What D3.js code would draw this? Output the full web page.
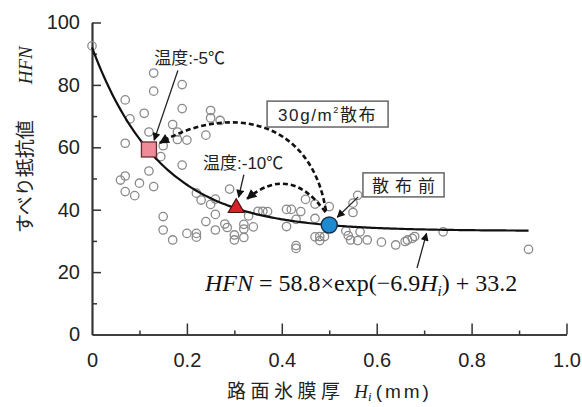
<!DOCTYPE html>
<html><head><meta charset="utf-8">
<script src="https://cdn.jsdelivr.net/npm/d3@7"></script>
<style>
html,body{margin:0;padding:0;background:#fff;}
svg{display:block;}
.sans{font-family:"Liberation Sans","Noto Sans CJK JP",sans-serif;}
.serif{font-family:"Liberation Serif","DejaVu Serif",serif;}
</style></head>
<body>
<svg id="chart" width="582" height="407"></svg>
<script>
// ---- data ----
const iceThickness = [0.00,0.13,0.19,0.13,0.07,0.19,0.11,0.08,0.25,0.25,0.27,0.17,0.12,0.18,0.18,0.20,0.24,0.07,0.15,0.145,
  0.19,0.12,0.07,0.06,0.10,0.13,0.07,0.09,0.29,0.22,0.23,0.26,0.25,0.26,0.15,0.24,0.28,0.26,0.15,0.20,
  0.22,0.22,0.17,0.285,0.30,0.30,0.32,0.32,0.34,0.32,0.33,0.35,0.36,0.37,0.41,0.42,0.44,0.45,0.47,0.41,
  0.43,0.47,0.43,0.43,0.47,0.48,0.49,0.48,0.50,0.55,0.56,0.55,0.535,0.54,0.545,0.565,0.58,0.56,0.61,0.64,
  0.66,0.665,0.675,0.68,0.74,0.92];
const hfnValues = [92.5,83.8,80.1,78.0,75.2,72.4,70.9,69.1,71.8,69.4,68.6,67.3,64.9,64.9,62.5,62.3,63.9,61.3,60.5,57.0,
  54.3,52.4,50.8,49.5,48.5,47.4,45.8,44.5,46.6,45.3,43.1,43.4,41.7,38.5,37.8,36.2,35.4,33.5,33.5,32.4,
  32.4,31.2,30.3,34.3,31.9,30.3,35.3,33.8,34.5,31.1,38.0,39.5,39.5,39.4,40.1,40.1,39.4,43.3,41.8,34.6,
  36.9,37.2,28.5,27.6,31.3,31.4,31.4,30.1,41.0,42.1,44.6,39.1,33.2,31.7,30.3,32.9,30.3,30.1,29.6,28.7,
  29.8,30.3,30.8,31.4,32.9,27.3];
// highlighted states: -5°C after spreading, -10°C after spreading, before spreading
const markerH   = [0.12, 0.304, 0.50];
const markerHFN = [59.3, 40.9, 35.1];
// fitted curve HFN = a*exp(-b*Hi) + c  (coefficients printed on chart)
const fitA = 58.8, fitB = 6.9, fitC = 33.2, fitMaxH = 0.92;
const xMajorTicks = [0.2,0.4,0.6,0.8,1.0];
const xMinorTicks = [0.1,0.3,0.5,0.7,0.9];
const xTickLabels = ["0","0.2","0.4","0.6","0.8","1.0"];
const yMajorTicks = [0,20,40,60,80,100];
const yMinorTicks = [10,30,50,70,90];

// ---- layout ----
const svg = d3.select("#chart");
const x = d3.scaleLinear().domain([0,1]).range([92,566.5]);
const y = d3.scaleLinear().domain([0,100]).range([334.5,22.5]);
const axisColor = "#333";

const defs = svg.append("defs");
function mk(id,w,h){
  defs.append("marker").attr("id",id).attr("viewBox","0 0 10 10")
    .attr("refX",9).attr("refY",5).attr("markerUnits","userSpaceOnUse")
    .attr("markerWidth",w).attr("markerHeight",h).attr("orient","auto")
    .append("path").attr("d","M0,0 L10,5 L0,10 Z").attr("fill","#111");
}
mk("arr",10,8); mk("arrBig",12,10);

// ---- axes ----
const gx = svg.append("g").attr("transform",`translate(0,${y(0)})`);
gx.call(d3.axisBottom(x).tickValues([0].concat(xMajorTicks)).tickSize(-11).tickSizeOuter(0).tickPadding(18.5)
  .tickFormat((d,i)=>xTickLabels[i]));
gx.append("g").call(d3.axisBottom(x).tickValues(xMinorTicks).tickSize(-4).tickSizeOuter(0).tickFormat(""));
const gy = svg.append("g").attr("transform",`translate(${x(0)},0)`);
gy.call(d3.axisLeft(y).tickValues(yMajorTicks).tickSize(-9).tickSizeOuter(0).tickPadding(12));
gy.append("g").call(d3.axisLeft(y).tickValues(yMinorTicks).tickSize(-5).tickSizeOuter(0).tickFormat(""));
svg.selectAll(".domain").attr("stroke",axisColor).attr("stroke-width",1.7);
svg.selectAll(".tick line").attr("stroke",axisColor).attr("stroke-width",1.5);
svg.selectAll(".tick text").attr("class","sans").attr("font-size",20).attr("fill","#222");
gx.selectAll(".tick").filter(d=>d===0).select("line").remove();
gy.selectAll(".tick").filter(d=>d===0).select("line").remove();

// ---- scatter ----
svg.append("g").selectAll("circle").data(iceThickness.map((h,i)=>[h,hfnValues[i]]))
  .join("circle").attr("cx",d=>x(d[0])).attr("cy",d=>y(d[1])).attr("r",4.2)
  .attr("fill","none").attr("stroke","#8a8a8a").attr("stroke-width",1.3);

// ---- fitted curve ----
const curveH = d3.range(0, fitMaxH+1e-9, 0.005);
svg.append("path").datum(curveH.map(h=>[h, fitA*Math.exp(-fitB*h)+fitC]))
  .attr("d",d3.line().x(d=>x(d[0])).y(d=>y(d[1])).curve(d3.curveLinear))
  .attr("fill","none").attr("stroke","#111").attr("stroke-width",2.2);

// ---- dashed transition arrows ----
function P(h,v){return [x(h),y(v)];}
{
  const a=P(0.493,39.6), b=P(0.462,69.5), c=P(0.285,74.0), d=P(0.143,61.4);
  svg.append("path").attr("d",`M${a}C${b} ${c} ${d}`).attr("fill","none").attr("stroke","#111")
    .attr("stroke-width",2.6).attr("stroke-dasharray","5,3").attr("marker-end","url(#arrBig)");
  const e=P(0.492,39.2), f=P(0.417,55.0), g=P(0.327,43.5);
  svg.append("path").attr("d",`M${e}Q${f} ${g}`).attr("fill","none").attr("stroke","#111")
    .attr("stroke-width",2.6).attr("stroke-dasharray","5,3").attr("marker-end","url(#arrBig)");
}

// ---- highlighted markers ----
svg.append("rect").attr("x",x(markerH[0])-7.5).attr("y",y(markerHFN[0])-7.5).attr("width",15).attr("height",15)
  .attr("fill","#ef8b99").attr("stroke","#6b2a30").attr("stroke-width",1.3);
svg.append("path").attr("d",d3.symbol().type(d3.symbolTriangle).size(110)())
  .attr("transform",`translate(${x(markerH[1])},${y(markerHFN[1])+1})`)
  .attr("fill","#d8222a").attr("stroke","#4a1010").attr("stroke-width",1.2);
svg.append("circle").attr("cx",x(markerH[2])).attr("cy",y(markerHFN[2])).attr("r",8)
  .attr("fill","#1f8ad0").attr("stroke","#16304d").attr("stroke-width",1.4);

// ---- annotations ----
function arrow(p,q){
  svg.append("line").attr("x1",p[0]).attr("y1",p[1]).attr("x2",q[0]).attr("y2",q[1])
    .attr("stroke","#222").attr("stroke-width",1.3).attr("marker-end","url(#arr)");
}
function label(txt,h,v,size,anchor){
  return svg.append("text").attr("class","sans").attr("x",x(h)).attr("y",y(v)).attr("font-size",size)
    .attr("fill","#222").attr("text-anchor",anchor||"start").text(txt);
}
label("温度:-5℃",0.131,86.7,17);
arrow(P(0.181,84.6),P(0.131,62.3));
label("温度:-10℃",0.234,53.0,17);
arrow(P(0.320,51.2),P(0.309,44.0));

// boxes
function box(h0,v0,h1,v1){
  svg.append("rect").attr("x",x(h0)).attr("y",y(v0)).attr("width",x(h1)-x(h0)).attr("height",y(v1)-y(v0))
    .attr("fill","#fff").attr("stroke","#666").attr("stroke-width",1.5);
}
box(0.369,74.8,0.624,66.5);
const t30 = svg.append("text").attr("class","sans").attr("x",x(0.4965)).attr("y",y(68.3)).attr("font-size",17)
  .attr("fill","#222").attr("text-anchor","middle").attr("letter-spacing",1.6);
t30.append("tspan").text("30g/m");
t30.append("tspan").attr("font-size",9).attr("dy",-8).text("2");
t30.append("tspan").attr("dy",8).text("散布");
box(0.571,51.8,0.742,44.1);
label("散布前",0.6565,45.8,17,"middle").attr("letter-spacing",6).attr("dx",3);
arrow(P(0.561,44.1),P(0.517,37.6));

// equation
const eq = svg.append("text").attr("class","serif").attr("x",x(0.238)).attr("y",y(14.0)).attr("font-size",24).attr("fill","#111");
eq.append("tspan").attr("font-style","italic").text("HFN");
eq.append("tspan").text(" = 58.8×exp(−6.9");
eq.append("tspan").attr("font-style","italic").text("H");
eq.append("tspan").attr("font-style","italic").attr("font-size",15).attr("dy",5).text("i");
eq.append("tspan").attr("dy",-5).text(") + 33.2");
arrow(P(0.685,21.3),P(0.705,32.4));

// axis titles
const yt = svg.append("text").attr("class","sans").attr("transform","translate(32,233) rotate(-90)")
  .attr("font-size",19).attr("fill","#222");
yt.append("tspan").text("すべり抵抗値");
yt.append("tspan").attr("class","serif").attr("font-style","italic").attr("dx",36).text("HFN");

const xt = svg.append("text").attr("class","sans").attr("x",227).attr("y",398).attr("font-size",19).attr("fill","#222");
xt.append("tspan").attr("letter-spacing",4.5).text("路面氷膜厚 ");
xt.append("tspan").attr("class","serif").attr("font-style","italic").text("H");
xt.append("tspan").attr("class","serif").attr("font-style","italic").attr("font-size",13).attr("dy",3).text("i");
xt.append("tspan").attr("dy",-3).attr("dx",4).attr("letter-spacing",3).text("(mm)");
</script>
</body></html>
